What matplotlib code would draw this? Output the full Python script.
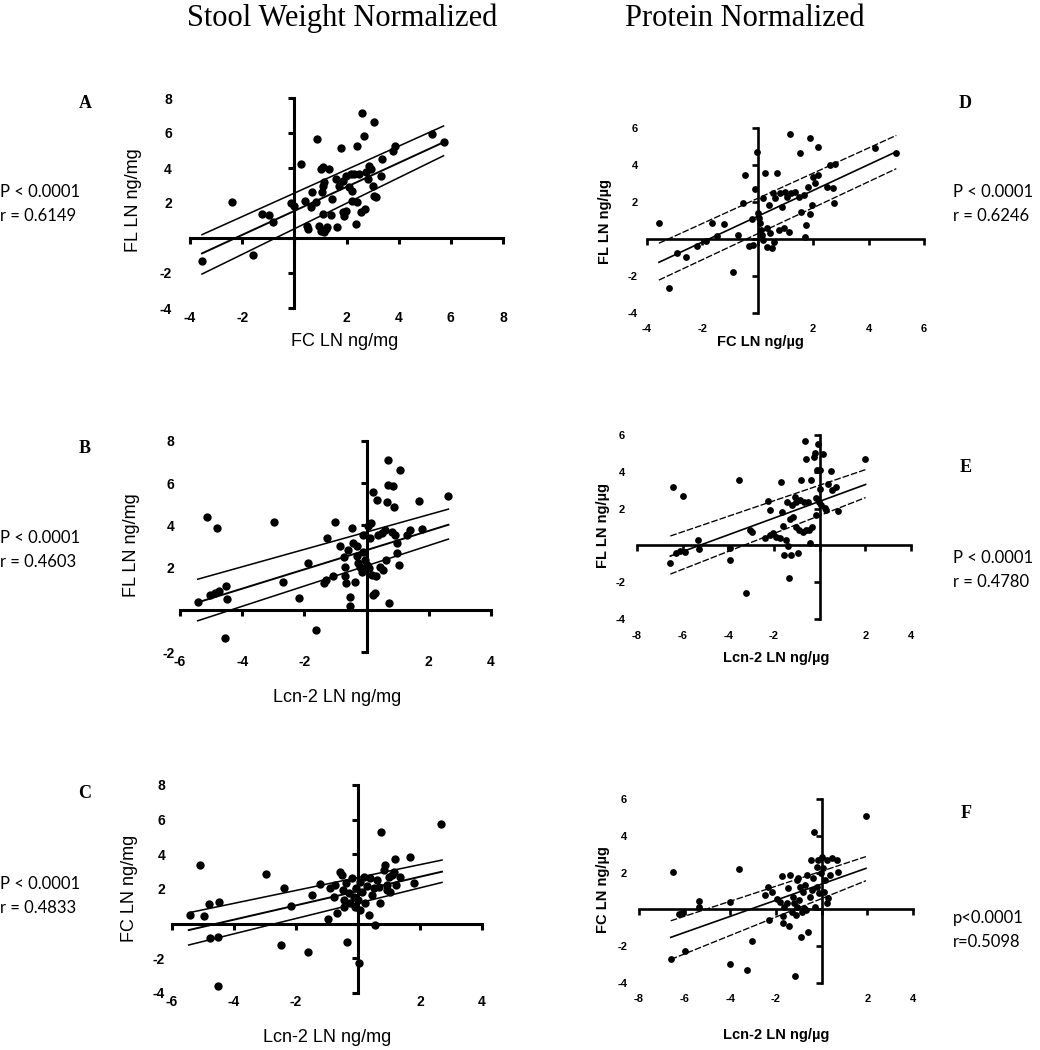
import matplotlib
matplotlib.use('Agg')
import matplotlib.pyplot as plt
from matplotlib.ticker import MultipleLocator, FuncFormatter

# ---- data ----
# A: FL vs FC (stool weight normalized)
a_x = [-3.54, -2.38, -1.59, -1.23, -0.97, -0.82, 0.24, -0.12, 0.00, 0.50,
       0.54, 0.69, 0.63, 0.82, 0.86, 1.01, 1.10, 1.33, 1.08, 1.14,
       1.05, 1.08, 1.40, 0.95, 1.01, 1.14, 1.21, 1.27, 1.46, 1.65,
       1.72, 1.78, 1.85, 1.91, 1.97, 1.97, 2.10, 2.17, 2.23, 2.23,
       2.36, 2.42, 2.42, 2.49, 2.55, 2.59, 2.68, 2.72, 2.74, 2.81,
       2.87, 3.00, 3.04, 3.06, 3.13, 3.38, 3.32, 3.77, 3.87, 5.27,
       5.72, 0.41, 1.59, 1.87, 2.30, 2.94]
a_y = [-1.33, 2.08, -0.97, 1.37, 1.33, 0.90, 4.21, 2.00, 1.85, 0.70,
       0.51, 2.60, 1.75, 2.04, 5.66, 3.94, 4.04, 3.94, 2.99, 3.18,
       2.60, 1.37, 1.31, 0.70, 0.42, 0.32, 0.51, 0.61, 2.23, 0.61,
       2.99, 5.12, 1.47, 1.28, 1.56, 3.56, 2.90, 3.66, 2.70, 2.13,
       0.80, 5.28, 2.04, 3.66, 1.47, 7.14, 5.85, 1.66, 3.75, 3.37,
       4.13, 2.95, 6.65, 2.42, 2.32, 4.51, 3.56, 4.99, 5.24, 5.92,
       5.47, 2.13, 3.37, 3.28, 3.66, 3.94]
a_fit_x = [-3.54, 5.72]
a_fit = [-0.88, 5.47]
a_hi = [0.19, 6.40]
a_lo = [-2.06, 4.70]

# B: FL vs Lcn-2 (stool weight normalized)
b_x = [-5.43, -5.14, -5.05, -4.89, -4.82, -4.73, -4.52, -4.49, -4.54, -2.99,
       -2.69, -2.18, -1.88, -1.63, -1.38, -1.31, -1.27, -1.08, -1.02, -0.84,
       -0.73, -0.70, -0.70, -0.67, -0.59, -0.54, -0.52, -0.48, -0.43, -0.38,
       -0.32, -0.30, -0.27, -0.22, -0.16, -0.11, -0.11, -0.05, 0.00, 0.05,
       0.09, 0.11, 0.13, 0.16, 0.19, 0.22, 0.27, 0.30, 0.34, 0.38,
       0.43, 0.48, 0.54, 0.59, 0.62, 0.65, 0.70, 0.70, 0.73, 0.81,
       0.86, 0.88, 0.91, 0.97, 0.99, 1.08, 1.05, 1.29, 1.40, 1.67,
       1.77, 2.63]
b_y = [0.39, 4.42, 0.71, 0.79, 3.87, 0.87, 1.15, 0.52, -1.34, 4.14,
       1.34, 0.58, 2.21, -0.98, 1.26, 1.42, 3.40, 1.58, 4.15, 3.03,
       2.48, 2.05, 1.61, 1.26, 2.84, 0.16, 0.63, 3.87, 3.16, 1.30,
       3.00, 2.53, 2.21, 2.05, 1.77, 3.55, 2.76, 2.37, 2.13, 3.95,
       1.97, 3.40, 4.11, 1.66, 0.71, 5.56, 0.79, 1.58, 5.21, 3.55,
       2.05, 3.63, 1.90, 3.79, 2.37, 5.13, 7.08, 5.92, 0.32, 3.71,
       5.85, 4.87, 3.55, 3.16, 2.69, 6.64, 2.13, 3.55, 3.79, 5.17,
       3.82, 5.40]
b_fit_x = [-5.43, 2.63]
b_fit = [0.35, 4.03]
b_hi = [1.45, 4.77]
b_lo = [-0.52, 3.35]

# C: FC vs Lcn-2 (stool weight normalized)
c_x = [-5.43, -5.11, -4.96, -4.82, -4.76, -4.49, -4.52, -4.52, -2.96, -2.38,
       -2.47, -2.16, -1.62, -1.48, -1.24, -0.98, -0.91, -0.78, -0.73, -0.68,
       -0.57, -0.52, -0.48, -0.46, -0.44, -0.35, -0.38, -0.30, -0.25, -0.19,
       -0.14, -0.09, -0.05, -0.01, 0.02, 0.05, 0.08, 0.13, 0.18, 0.24,
       0.29, 0.34, 0.40, 0.45, 0.51, 0.56, 0.61, 0.67, 0.72, 0.74,
       0.83, 0.86, 0.94, 0.94, 0.99, 1.04, 1.10, 1.15, 1.24, 1.37,
       1.20, 1.69, 1.80, 2.69]
c_y = [0.50, 3.38, 0.46, 1.12, -0.81, 1.27, -0.75, -3.58, 2.87, 2.04,
       -1.23, 1.04, -1.65, 1.65, 2.29, 0.27, 2.04, 1.56, 2.23, 0.60,
       3.00, 2.81, 1.94, 1.37, 0.98, -1.04, 2.33, 1.75, 1.17, 2.62,
       1.56, 0.98, 2.04, 1.37, -2.29, 0.79, 2.42, 1.85, 2.71, 1.17,
       2.17, 0.50, 2.62, 1.65, 2.04, -0.08, 2.52, 2.13, 1.21, 5.31,
       3.10, 3.38, 2.23, 1.94, 2.71, 1.85, 2.81, 2.98, 2.23, 2.71,
       3.71, 3.87, 2.37, 5.73]
c_fit_x = [-5.46, 2.71]
c_fit = [-0.37, 3.00]
c_hi = [0.63, 3.67]
c_lo = [-1.23, 2.38]

# D: FL vs FC (protein normalized)
d_x = [-3.57, -3.20, -2.93, -2.59, -2.18, -1.87, -1.66, -1.48, -1.22, -0.88,
       -0.70, -0.52, -0.48, -0.30, -0.22, -0.16, -0.10, -0.04, 0.02, 0.06,
       0.08, 0.11, 0.14, 0.18, 0.20, 0.27, 0.33, 0.35, 0.39, 0.45,
       0.51, 0.54, 0.57, 0.63, 0.69, 0.75, 0.81, 0.87, 0.95, 0.99,
       1.05, 1.14, 1.17, 1.19, 1.35, 1.47, 1.51, 1.55, 1.65, 1.71,
       1.75, 1.83, 1.87, 1.89, 1.95, 2.01, 2.07, 2.19, 2.16, 2.49,
       2.61, 2.80, 2.73, 2.76, 4.24, 5.00]
d_y = [0.88, -2.63, -0.77, -0.99, -0.38, -0.11, 0.85, 0.18, 0.81, -1.80,
       0.22, 1.96, 3.46, -0.36, 1.06, -0.32, 2.70, 4.72, 1.39, 1.12,
       0.85, 0.49, 0.22, -0.05, 2.20, 3.55, -0.41, 0.61, 1.84, 0.31,
       -0.50, 2.47, -0.14, 2.20, 3.55, 0.49, 2.47, 1.75, 0.58, 2.56,
       2.29, 0.40, 5.68, 2.47, 2.56, 2.29, 4.63, 1.48, 2.38, 0.13,
       0.76, 2.83, 5.44, 1.35, 1.84, 3.37, 3.01, 4.95, 3.46, 2.83,
       4.00, 4.05, 2.74, 1.93, 4.90, 4.67]
d_fit_x = [-3.57, 5.00]
d_fit = [-1.26, 4.72]
d_hi = [-0.23, 5.60]
d_lo = [-2.22, 3.80]

# E: FL vs Lcn-2 (protein normalized)
e_x = [-6.54, -6.42, -6.28, -6.13, -5.99, -5.91, -5.33, -5.28, -3.94, -3.91,
       -3.53, -3.21, -3.04, -2.95, -2.41, -2.26, -2.19, -2.16, -2.04, -1.90,
       -1.75, -1.68, -1.64, -1.61, -1.58, -1.49, -1.43, -1.39, -1.34, -1.31,
       -1.24, -1.20, -1.17, -1.09, -1.05, -1.02, -0.95, -0.91, -0.85, -0.80,
       -0.73, -0.70, -0.66, -0.61, -0.58, -0.51, -0.47, -0.41, -0.36, -0.32,
       -0.26, -0.22, -0.18, -0.15, -0.10, -0.06, -0.03, 0.03, 0.07, 0.15,
       0.22, 0.29, 0.36, 0.51, 0.55, 0.73, 0.80, 2.00, 0.03]
e_y = [-0.98, 3.18, -0.40, -0.31, 2.68, -0.34, 0.29, -0.22, -0.16, -0.80,
       3.54, -2.60, 0.83, 0.74, 0.38, 2.40, 1.95, 0.56, 0.65, 0.47,
       0.38, 3.45, 1.83, 1.05, -0.52, 0.29, 2.37, -0.04, -1.79, 1.41,
       -0.52, 2.19, 1.56, 2.64, 0.98, 2.37, -0.43, 0.83, 2.46, 3.58,
       0.74, 2.37, 5.68, 4.72, 0.83, 2.37, 0.83, 0.14, 3.58, 1.01,
       4.81, 5.03, 2.60, 1.65, 4.09, 5.50, 2.37, 3.09, 2.19, 4.99,
       2.01, 1.92, 3.36, 4.05, 3.00, 3.18, 1.88, 4.72, 4.09]
e_fit_x = [-6.54, 2.01]
e_fit = [-0.58, 3.31]
e_hi = [0.51, 4.12]
e_lo = [-1.56, 2.60]

# F: FC vs Lcn-2 (protein normalized)
f_x = [-6.61, -6.50, -6.23, -6.13, -5.99, -5.36, -5.36, -4.01, -4.01, -3.61,
       -3.28, -3.04, -2.48, -2.34, -2.29, -2.19, -1.97, -1.82, -1.75, -1.71,
       -1.68, -1.65, -1.53, -1.46, -1.42, -1.39, -1.31, -1.24, -1.21, -1.17,
       -1.12, -1.09, -1.07, -1.02, -0.98, -0.95, -0.92, -0.88, -0.83, -0.77,
       -0.73, -0.69, -0.66, -0.58, -0.51, -0.48, -0.44, -0.36, -0.32, -0.29,
       -0.22, -0.19, -0.15, -0.10, -0.04, 0.00, 0.04, 0.10, 0.15, 0.22,
       0.25, 0.29, 0.36, 0.44, 0.66, 0.73, 1.94]
f_y = [-2.67, 2.05, -0.25, -0.18, -2.25, 0.47, 0.15, 0.42, -2.98, 2.20,
       -3.27, -1.72, 0.78, 1.23, -0.58, 0.96, 0.54, 0.42, 1.81, -0.36,
       -0.76, 0.15, 0.33, 1.14, -0.91, 1.87, -0.13, 0.69, 0.33, -3.63,
       -0.31, 1.60, 0.15, 1.69, 0.51, 1.23, -1.49, -0.13, 0.96, 0.05,
       1.32, -0.04, 1.87, -1.22, 0.69, 2.69, 1.05, 1.69, 4.23, 0.15,
       2.32, 1.23, 2.69, 0.87, 1.96, 2.87, 2.23, 0.96, 1.60, 2.69,
       0.33, 0.60, 1.87, 2.78, 2.69, 2.05, 5.05]
f_fit_x = [-6.61, 1.94]
f_fit = [-1.52, 2.23]
f_hi = [-0.62, 2.87]
f_lo = [-2.72, 1.56]

W, H = 1040, 1050
fig = plt.figure(figsize=(W / 100, H / 100), dpi=100)


def box(l, r, t, b):
    return [l / W, 1 - b / H, (r - l) / W, (b - t) / H]


def ftext(x, y, s, **kw):
    fig.text(x / W, 1 - y / H, s, **kw)


fmt = FuncFormatter(lambda v, p: '' if abs(v) < 1e-9 else '%d' % round(v))


def panel(rect, xs, ys, fx, fmid, flo, fhi, xlim, ylim, left_col, ypad, xpad):
    ax = fig.add_axes(box(*rect))
    ax.patch.set_alpha(0)
    if left_col:
        ms, lw_ax, lw_fit, band_ls, tsize, tlen = 36, 2.2, 1.4, '-', 10, 4
    else:
        ms, lw_ax, lw_fit, band_ls, tsize, tlen = 24, 1.9, 1.2, (0, (5, 1.5)), 8, 4
    ax.scatter(xs, ys, s=ms, color='black', linewidths=0, zorder=3, clip_on=False)
    ax.plot(fx, fmid, color='black', lw=lw_fit, zorder=2)
    ax.plot(fx, fhi, color='black', lw=lw_fit * 0.8, ls=band_ls, zorder=2)
    ax.plot(fx, flo, color='black', lw=lw_fit * 0.8, ls=band_ls, zorder=2)
    ax.set_xlim(*xlim)
    ax.set_ylim(*ylim)
    ax.xaxis.set_major_locator(MultipleLocator(2))
    ax.yaxis.set_major_locator(MultipleLocator(2))
    ax.xaxis.set_major_formatter(fmt)
    ax.yaxis.set_major_formatter(fmt)
    ax.spines['left'].set_visible(False)
    ax.spines['bottom'].set_visible(False)
    ax.spines['right'].set_position(('data', 0))
    ax.spines['top'].set_position(('data', 0))
    for s in ('right', 'top'):
        ax.spines[s].set_linewidth(lw_ax)
    ax.tick_params(axis='y', left=False, right=True, labelleft=True, labelright=False,
                   direction='in', length=tlen, width=lw_ax, pad=ypad)
    ax.tick_params(axis='x', bottom=False, top=True, labelbottom=True, labeltop=False,
                   direction='in', length=tlen, width=lw_ax, pad=xpad)
    for lab in ax.get_xticklabels() + ax.get_yticklabels():
        lab.set_fontfamily('Liberation Sans')
        lab.set_fontweight('bold')
        lab.set_fontsize(tsize)
    return ax


panel((190, 503, 98, 308), a_x, a_y, a_fit_x, a_fit, a_lo, a_hi, (-4, 8), (-4, 8), True, 13, 2)
panel((180, 491, 441, 652), b_x, b_y, b_fit_x, b_fit, b_lo, b_hi, (-6, 4), (-2, 8), True, 4, 2)
panel((172, 482, 785, 993), c_x, c_y, c_fit_x, c_fit, c_lo, c_hi, (-6, 4), (-4, 8), True, 5, 1.5)
panel((647, 924, 128, 313), d_x, d_y, d_fit_x, d_fit, d_lo, d_hi, (-4, 6), (-4, 6), False, 6.5, 8)
panel((637, 911, 435, 619), e_x, e_y, e_fit_x, e_fit, e_lo, e_hi, (-8, 4), (-4, 6), False, 8.5, 8.5)
panel((639, 913, 799, 983), f_x, f_y, f_fit_x, f_fit, f_lo, f_hi, (-8, 4), (-4, 6), False, 8.5, 8)

# axis titles
lab_l = dict(fontfamily='Liberation Sans', fontsize=13, ha='center', va='center')
lab_r = dict(fontfamily='Liberation Sans', fontsize=10.5, fontweight='bold', ha='center', va='center')
ftext(133, 200, 'FL LN ng/mg', rotation=90, **lab_l)
ftext(345, 342, 'FC LN ng/mg', **lab_l)
ftext(131, 545, 'FL LN ng/mg', rotation=90, **lab_l)
ftext(337, 697, 'Lcn-2 LN ng/mg', **lab_l)
ftext(130, 888, 'FC LN ng/mg', rotation=90, **lab_l)
ftext(327, 1037, 'Lcn-2 LN ng/mg', **lab_l)
ftext(605, 222, 'FL LN ng/µg', rotation=90, **lab_r)
ftext(760, 342, 'FC LN ng/µg', **lab_r)
ftext(603, 525, 'FL LN ng/µg', rotation=90, **lab_r)
ftext(776, 658, 'Lcn-2 LN ng/µg', **lab_r)
ftext(603, 890, 'FC LN ng/µg', rotation=90, **lab_r)
ftext(776, 1035, 'Lcn-2 LN ng/µg', **lab_r)

# column headings
head = dict(fontfamily='Liberation Serif', fontsize=22, ha='center', va='center')
ftext(342, 18, 'Stool Weight Normalized', **head)
ftext(745, 18, 'Protein Normalized', **head)

# panel letters
let = dict(fontfamily='Liberation Serif', fontsize=13, fontweight='bold', ha='center', va='center')
for lx, ly, s in [(85, 104, 'A'), (85, 448, 'B'), (85, 794, 'C'),
                  (965, 104, 'D'), (966, 468, 'E'), (966, 814, 'F')]:
    ftext(lx, ly, s, **let)

# statistics
st = dict(fontfamily='Lato', fontsize=12, ha='left', va='center')
for sx, sy, p, r in [(0, 192, 'P < 0.0001', 'r = 0.6149'),
                     (0, 538, 'P < 0.0001', 'r = 0.4603'),
                     (0, 884, 'P < 0.0001', 'r = 0.4833'),
                     (953, 192, 'P < 0.0001', 'r = 0.6246'),
                     (953, 558, 'P < 0.0001', 'r = 0.4780'),
                     (953, 918, 'p<0.0001', 'r=0.5098')]:
    ftext(sx, sy, p, **st)
    ftext(sx, sy + 24, r, **st)

fig.savefig('out.png', dpi=100)
